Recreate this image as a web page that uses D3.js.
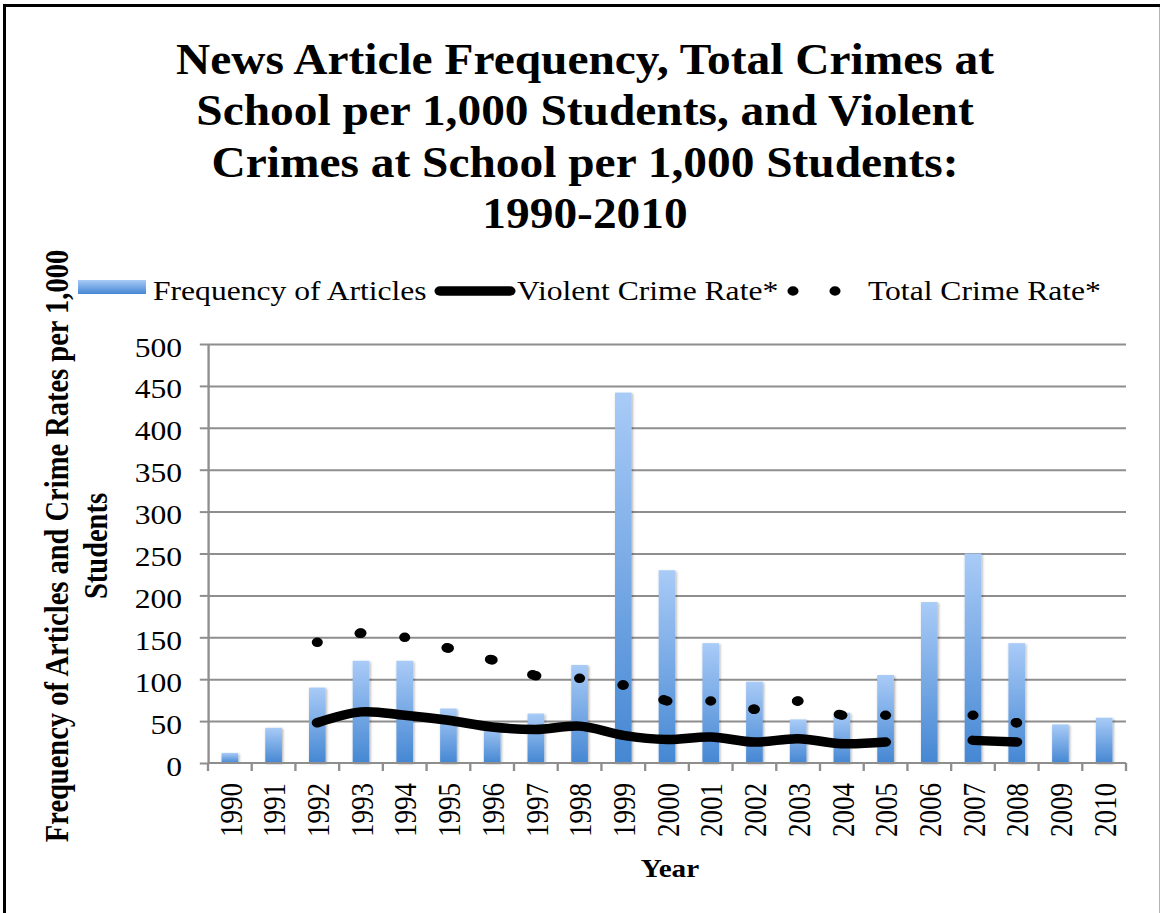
<!DOCTYPE html>
<html>
<head>
<meta charset="utf-8">
<script src="https://cdn.jsdelivr.net/npm/d3@7"></script>
<style>
  html, body { margin: 0; padding: 0; background: #fff; }
  svg { display: block; }
  text { font-family: "Liberation Serif", "Times New Roman", serif; fill: #000; }
</style>
</head>
<body>
<svg id="chart" width="1160" height="913"></svg>
<script>
// ---- data ----
const years = [1990, 1991, 1992, 1993, 1994, 1995, 1996, 1997, 1998, 1999, 2000,
               2001, 2002, 2003, 2004, 2005, 2006, 2007, 2008, 2009, 2010];
const articles = [12, 42, 90, 122, 122, 65, 46, 59, 117, 442, 230,
                  143, 97, 52, 60, 105, 192, 250, 143, 46, 54];
const violentRate = [null, null, 48, 61, 57, 51, 43, 40, 44, 33, 28,
                     31, 25, 29, 23, 25, null, 27, 25, null, null];
const totalRate = [null, null, 144, 155, 150, 137, 123, 104, 101, 93, 74,
                   74, 64, 74, 57, 57, null, 57, 48, null, null];
const yTicks = [0, 50, 100, 150, 200, 250, 300, 350, 400, 450, 500];
const titleLines = ["News Article Frequency, Total Crimes at",
                    "School per 1,000 Students, and Violent",
                    "Crimes at School per 1,000 Students:",
                    "1990-2010"];
const yTitleLines = ["Frequency of Articles and Crime Rates per 1,000", "Students"];
const xTitle = "Year";
const legendLabels = ["Frequency of Articles", "Violent Crime Rate*", "Total Crime Rate*"];

// ---- layout ----
const W = 1160, H = 913;
const SX = 1.17;               // horizontal stretch of the whole drawing
const plot = { left: 208 / SX, right: 1126 / SX, top: 344, bottom: 763 };

const svg = d3.select("#chart");
svg.append("rect").attr("width", W).attr("height", H).attr("fill", "#fff");

const defs = svg.append("defs");
const grad = defs.append("linearGradient").attr("id", "barGrad")
  .attr("x1", 0).attr("y1", 0).attr("x2", 0).attr("y2", 1);
grad.append("stop").attr("offset", "0%").attr("stop-color", "#a9cbf7");
grad.append("stop").attr("offset", "100%").attr("stop-color", "#4587d3");
const shadow = defs.append("filter").attr("id", "barShadow")
  .attr("x", "-30%").attr("y", "-5%").attr("width", "160%").attr("height", "110%");
shadow.append("feGaussianBlur").attr("in", "SourceAlpha").attr("stdDeviation", 1.3).attr("result", "b");
shadow.append("feOffset").attr("in", "b").attr("dx", 0.6).attr("dy", 0.6).attr("result", "o");
shadow.append("feComponentTransfer").attr("in", "o").attr("result", "s")
  .append("feFuncA").attr("type", "linear").attr("slope", 0.35);
const merge = shadow.append("feMerge");
merge.append("feMergeNode").attr("in", "s");
merge.append("feMergeNode").attr("in", "SourceGraphic");

// frame around the chart
svg.append("line").attr("x1", 3).attr("x2", 1160).attr("y1", 5.5).attr("y2", 5.5)
  .attr("stroke", "#000").attr("stroke-width", 3);
svg.append("line").attr("x1", 4.5).attr("x2", 4.5).attr("y1", 4).attr("y2", H)
  .attr("stroke", "#000").attr("stroke-width", 3);
svg.append("line").attr("x1", 1159.5).attr("x2", 1159.5).attr("y1", 7).attr("y2", H)
  .attr("stroke", "#b4b4b4").attr("stroke-width", 1);

// ---- title (own horizontal scale, taller glyphs) ----
const TSX = 1.09;
svg.append("g").attr("transform", `scale(${TSX},1)`)
  .selectAll("text").data(titleLines).join("text")
  .attr("x", 585 / TSX).attr("y", (d, i) => 74 + i * 51.3)
  .attr("text-anchor", "middle")
  .attr("font-size", 43.5).attr("font-weight", "bold")
  .text(d => d);

const g = svg.append("g").attr("transform", `scale(${SX},1)`);

// ---- scales ----
const x = d3.scaleBand().domain(years).range([plot.left, plot.right]).paddingInner(0).paddingOuter(0);
const y = d3.scaleLinear().domain([0, 500]).range([plot.bottom, plot.top]);
const barW = x.bandwidth() * 0.38;
const cx = d => x(d) + x.bandwidth() / 2;

// ---- gridlines ----
const gridColor = "#8e8e8e";
g.append("g").attr("class", "grid")
  .attr("transform", `translate(${plot.left},0)`)
  .call(d3.axisLeft(y).tickValues(yTicks.slice(1)).tickSize(-(plot.right - plot.left)).tickFormat(""))
  .call(s => s.select(".domain").remove())
  .call(s => s.selectAll("line").attr("stroke", gridColor).attr("stroke-width", 2));

// ---- y axis ----
g.append("g").attr("class", "y-axis")
  .attr("transform", `translate(${plot.left},0)`)
  .call(d3.axisLeft(y).tickValues(yTicks).tickSize(7).tickSizeOuter(0).tickPadding(0).tickFormat(d3.format("d")))
  .call(s => s.select(".domain").attr("stroke", gridColor).attr("stroke-width", 2))
  .call(s => s.selectAll(".tick line").attr("stroke", gridColor).attr("stroke-width", 2))
  .call(s => s.selectAll(".tick text")
    .attr("x", 155.6 - plot.left).attr("dy", null).attr("y", 12)
    .attr("text-anchor", "end")
    .attr("font-family", "\"Liberation Serif\", \"Times New Roman\", serif")
    .attr("font-size", 27).attr("fill", "#000"));

// ---- bars ----
g.append("g").selectAll("rect").data(years).join("rect")
  .attr("x", (d) => cx(d) - barW / 2)
  .attr("y", (d, i) => y(articles[i]))
  .attr("width", barW)
  .attr("height", (d, i) => y(0) - y(articles[i]))
  .attr("fill", "url(#barGrad)")
  .attr("filter", "url(#barShadow)");

// ---- x axis ----
g.append("line")
  .attr("x1", plot.left).attr("x2", plot.right)
  .attr("y1", y(0)).attr("y2", y(0))
  .attr("stroke", gridColor).attr("stroke-width", 2);
g.append("g").selectAll("line").data(d3.range(years.length + 1)).join("line")
  .attr("x1", i => plot.left + i * x.step()).attr("x2", i => plot.left + i * x.step())
  .attr("y1", y(0)).attr("y2", y(0) + 8)
  .attr("stroke", gridColor).attr("stroke-width", 2);
g.append("g").selectAll("text").data(years).join("text")
  .attr("transform", d => `translate(${cx(d) + 10},783) rotate(-90)`)
  .attr("text-anchor", "end")
  .attr("font-size", 27)
  .text(d => d);

// ---- violent crime rate (smoothed solid line) ----
const pts = (arr) => years.map((yr, i) => ({ yr, v: arr[i] }));
const line = d3.line()
  .defined(d => d.v !== null)
  .x(d => cx(d.yr)).y(d => y(d.v))
  .curve(d3.curveCatmullRom.alpha(0.5));
g.append("path").datum(pts(violentRate))
  .attr("d", line)
  .attr("fill", "none").attr("stroke", "#000")
  .attr("stroke-width", 9.5).attr("stroke-linecap", "round").attr("stroke-linejoin", "round");

// ---- total crime rate (round-dot line, pattern restarts on each segment) ----
const dotGap = 37.6;
const totalPts = pts(totalRate);
const segs = [];
const runEnds = [];
totalPts.forEach((p, i) => {
  const n = totalPts[i + 1];
  if (p.v !== null && n && n.v !== null) segs.push([p, n]);
  if (p.v !== null && (!n || n.v === null)) runEnds.push(p);
});
const segLine = d3.line().x(d => cx(d.yr)).y(d => y(d.v));
const dotStyle = s => s.attr("fill", "none").attr("stroke", "#000")
  .attr("stroke-width", 9.5).attr("stroke-linecap", "round");
g.append("g").selectAll("path").data(segs).join("path")
  .attr("d", segLine)
  .attr("stroke-dasharray", `0 ${dotGap}`)
  .call(dotStyle);
g.append("g").selectAll("path").data(runEnds).join("path")
  .attr("d", d => `M${cx(d.yr)},${y(d.v)}h0`)
  .call(dotStyle);

// ---- axis titles ----
g.append("g").selectAll("text").data(yTitleLines).join("text")
  .attr("transform", (d, i) => `translate(${(68 + i * 39) / SX},546) rotate(-90)`)
  .attr("text-anchor", "middle")
  .attr("font-size", 28.5).attr("font-weight", "bold")
  .text(d => d);
g.append("text")
  .attr("x", 670 / SX).attr("y", 877)
  .attr("text-anchor", "middle")
  .attr("font-size", 25).attr("font-weight", "bold")
  .text(xTitle);

// ---- legend ----
const lg = g.append("g").attr("class", "legend");
lg.append("rect")
  .attr("x", 78 / SX).attr("y", 280).attr("width", 68 / SX).attr("height", 14)
  .attr("fill", "url(#barGrad)");
lg.append("line")
  .attr("x1", 440 / SX).attr("x2", 510 / SX).attr("y1", 291).attr("y2", 291)
  .attr("stroke", "#000").attr("stroke-width", 9.5).attr("stroke-linecap", "round");
lg.append("path")
  .attr("d", `M${793 / SX},291L${850 / SX},291`)
  .attr("stroke-dasharray", `0 ${42 / SX}`)
  .call(dotStyle);
lg.selectAll("text").data(legendLabels).join("text")
  .attr("x", (d, i) => [153, 517, 868][i] / SX)
  .attr("y", 300)
  .attr("font-size", 27)
  .text(d => d);
</script>
</body>
</html>
